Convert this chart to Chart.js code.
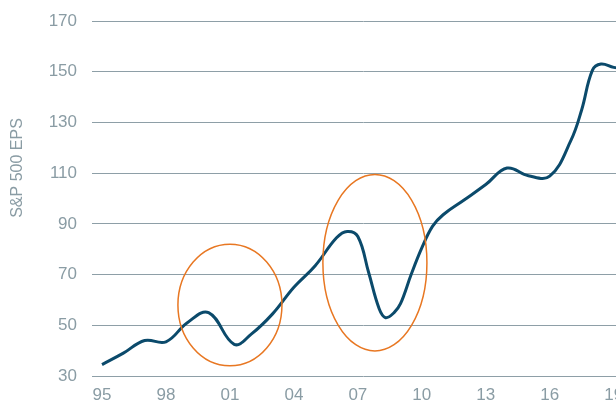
<!DOCTYPE html>
<html>
<head>
<meta charset="utf-8">
<script src="https://cdn.jsdelivr.net/npm/chart.js@4/dist/chart.umd.min.js"></script>
<style>
  html, body { margin: 0; padding: 0; background: #fff; overflow: hidden; }
</style>
</head>
<body>
<canvas id="epsChart" width="650" height="403"></canvas>
<script>
// S&P 500 EPS
const years = [1995, 1996, 1997, 1998, 1999, 2000, 2001.2, 2002, 2003, 2004, 2005, 2006, 2006.5, 2007, 2007.5, 2008, 2008.3, 2008.7, 2009, 2009.5, 2010, 2010.5, 2011, 2012, 2013, 2014, 2015, 2016, 2017, 2017.5, 2018, 2018.4, 2019, 2019.5];
const eps = [34.5, 39, 44, 43.5, 51, 55, 42.5, 46.5, 54.5, 65, 73.5, 84.5, 87, 85, 71, 56.5, 53, 55, 58.5, 70, 80.5, 89, 93.6, 99.5, 105.5, 112, 109, 108.8, 123, 135, 150.5, 153, 151.7, 151];

const tickYears = [1995, 1998, 2001, 2004, 2007, 2010, 2013, 2016, 2019];
const tickLabels = ['95', '98', '01', '04', '07', '10', '13', '16', '19'];
const yTicks = [30, 50, 70, 90, 110, 130, 150, 170];

// highlighted periods (centre year/value and radius in years/value)
const ellipseYears = [2001.0, 2007.8];
const ellipseValues = [58, 74.7];
const ellipseRadYears = [2.44, 2.44];
const ellipseRadValues = [24, 34.8];

const textGray = '#8a9ca4';
const gridGray = '#8e9fa7';
const fontFamily = '"Liberation Sans", Arial, sans-serif';

const ellipsePlugin = {
  id: 'ellipses',
  afterDatasetsDraw(chart) {
    const ctx = chart.ctx;
    const xs = chart.scales.x, ys = chart.scales.y;
    ctx.save();
    ctx.strokeStyle = '#e87722';
    ctx.lineWidth = 1.5;
    ellipseYears.forEach((yr, i) => {
      const cx = xs.getPixelForValue(yr);
      const cy = ys.getPixelForValue(ellipseValues[i]);
      const rx = xs.getPixelForValue(yr + ellipseRadYears[i]) - cx;
      const ry = cy - ys.getPixelForValue(ellipseValues[i] + ellipseRadValues[i]);
      ctx.beginPath();
      ctx.ellipse(cx, cy, rx, ry, 0, 0, Math.PI * 2);
      ctx.stroke();
    });
    ctx.restore();
  }
};

const yTitlePlugin = {
  id: 'yTitle',
  afterDraw(chart) {
    const ctx = chart.ctx;
    ctx.save();
    ctx.translate(18, 168);
    ctx.rotate(-Math.PI / 2);
    ctx.font = '16px ' + fontFamily;
    ctx.fillStyle = textGray;
    ctx.textAlign = 'center';
    ctx.textBaseline = 'middle';
    ctx.fillText('S&P 500 EPS', 0, 0);
    ctx.restore();
  }
};

const ctx = document.getElementById('epsChart').getContext('2d');
new Chart(ctx, {
  type: 'line',
  data: {
    datasets: [{
      data: years.map((y, i) => ({ x: y, y: eps[i] })),
      borderColor: '#0b4a6b',
      borderWidth: 3,
      pointRadius: 0,
      fill: false,
      tension: 0.4
    }]
  },
  options: {
    responsive: false,
    animation: false,
    layout: { padding: { top: 21, left: 0, right: 15, bottom: 0 } },
    plugins: {
      legend: { display: false },
      tooltip: { enabled: false }
    },
    scales: {
      x: {
        type: 'linear',
        min: 1994.53,
        max: 2020,
        afterBuildTicks: scale => { scale.ticks = tickYears.map(v => ({ value: v })); },
        afterFit: scale => { scale.height = 27; scale.paddingLeft = 0; scale.paddingRight = 0; },
        grid: { display: false, drawTicks: false },
        border: { display: false },
        ticks: {
          padding: 9,
          color: textGray,
          font: { family: fontFamily, size: 17 },
          callback: v => tickLabels[tickYears.indexOf(v)]
        }
      },
      y: {
        min: 30,
        max: 170,
        afterBuildTicks: scale => { scale.ticks = yTicks.map(v => ({ value: v })); },
        afterFit: scale => { scale.width = 92; scale.paddingTop = 0; scale.paddingBottom = 0; },
        grid: { color: gridGray, lineWidth: 1, drawTicks: false },
        border: { display: false },
        ticks: {
          padding: 15,
          color: textGray,
          font: { family: fontFamily, size: 17 }
        }
      }
    }
  },
  plugins: [ellipsePlugin, yTitlePlugin]
});
</script>
</body>
</html>
